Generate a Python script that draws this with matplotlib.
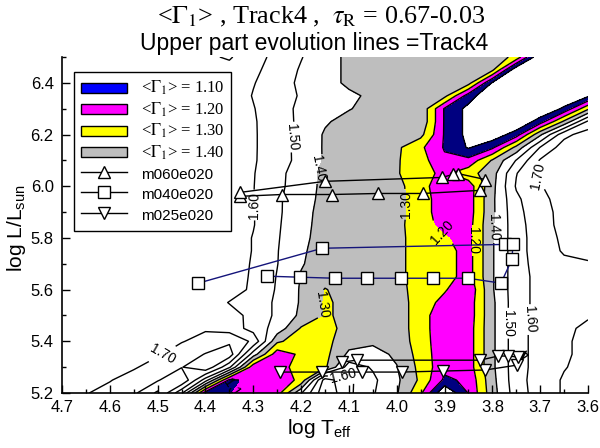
import numpy as np
import matplotlib
matplotlib.use("Agg")
import matplotlib.pyplot as plt
from matplotlib.patches import Patch, Rectangle
from matplotlib.lines import Line2D
from matplotlib.legend_handler import HandlerPatch
from matplotlib.ticker import MultipleLocator, FormatStrFormatter

plt.rcParams['font.family'] = ['Liberation Sans', 'DejaVu Sans']
plt.rcParams['mathtext.fontset'] = 'custom'
plt.rcParams['mathtext.rm'] = 'Liberation Sans'
plt.rcParams['mathtext.it'] = 'Liberation Sans:italic'
plt.rcParams['mathtext.bf'] = 'Liberation Sans:bold'

# ---------------- data ----------------
log_teff = [4.70, 4.65, 4.60, 4.55, 4.50, 4.45, 4.40, 4.35, 4.30, 4.25, 4.20, 4.15,
            4.10, 4.05, 4.00, 3.95, 3.90, 3.85, 3.80, 3.75, 3.70, 3.65, 3.60]
log_l = [5.20, 5.25, 5.30, 5.35, 5.40, 5.45, 5.50, 5.55, 5.60, 5.65, 5.70, 5.75, 5.80,
         5.85, 5.90, 5.95, 6.00, 6.05, 6.10, 6.15, 6.20, 6.25, 6.30, 6.35, 6.40, 6.45, 6.50]

# <Gamma_1> estimated on the (log L, log Teff) grid; one row per log L value
gamma1 = [
    [1.66, 1.695, 1.73, 1.78, 1.92, 1.62, 1.05, 1.095, 1.14, 1.15, 1.49, 1.78, 1.62, 1.51, 1.41, 1.22, 0.90, 1.105, 1.36, 1.55, 1.65, 1.71, 1.74],
    [1.66, 1.68, 1.695, 1.74, 1.79, 1.90, 1.55, 1.08, 1.12, 1.15, 1.22, 1.75, 1.62, 1.52, 1.42, 1.28, 1.08, 1.12, 1.37, 1.56, 1.65, 1.71, 1.74],
    [1.65, 1.67, 1.68, 1.69, 1.74, 1.795, 1.88, 1.62, 1.13, 1.16, 1.24, 1.28, 1.55, 1.49, 1.405, 1.27, 1.13, 1.15, 1.38, 1.56, 1.64, 1.695, 1.73],
    [1.65, 1.66, 1.67, 1.68, 1.69, 1.74, 1.805, 1.86, 1.45, 1.14, 1.22, 1.27, 1.42, 1.44, 1.38, 1.26, 1.13, 1.15, 1.38, 1.56, 1.64, 1.69, 1.72],
    [1.65, 1.66, 1.665, 1.67, 1.68, 1.695, 1.73, 1.78, 1.68, 1.32, 1.24, 1.27, 1.36, 1.38, 1.36, 1.25, 1.13, 1.15, 1.38, 1.56, 1.64, 1.69, 1.72],
    [1.65, 1.655, 1.66, 1.665, 1.67, 1.68, 1.69, 1.66, 1.56, 1.46, 1.29, 1.26, 1.34, 1.37, 1.35, 1.25, 1.12, 1.15, 1.38, 1.56, 1.64, 1.69, 1.71],
    [1.65, 1.655, 1.66, 1.665, 1.67, 1.675, 1.68, 1.64, 1.57, 1.48, 1.38, 1.29, 1.32, 1.36, 1.35, 1.25, 1.12, 1.14, 1.38, 1.56, 1.63, 1.68, 1.695],
    [1.65, 1.655, 1.66, 1.66, 1.665, 1.67, 1.665, 1.595, 1.57, 1.48, 1.39, 1.285, 1.33, 1.36, 1.35, 1.25, 1.17, 1.14, 1.38, 1.56, 1.63, 1.67, 1.69],
    [1.65, 1.65, 1.655, 1.66, 1.66, 1.665, 1.67, 1.65, 1.58, 1.49, 1.39, 1.295, 1.34, 1.36, 1.34, 1.25, 1.21, 1.12, 1.39, 1.56, 1.63, 1.67, 1.69],
    [1.65, 1.65, 1.655, 1.66, 1.66, 1.665, 1.67, 1.655, 1.585, 1.495, 1.395, 1.34, 1.345, 1.35, 1.33, 1.25, 1.24, 1.16, 1.39, 1.56, 1.63, 1.67, 1.68],
    [1.65, 1.65, 1.655, 1.66, 1.66, 1.665, 1.67, 1.655, 1.59, 1.503, 1.405, 1.37, 1.35, 1.35, 1.33, 1.25, 1.24, 1.16, 1.39, 1.56, 1.64, 1.68, 1.69],
    [1.65, 1.655, 1.66, 1.66, 1.665, 1.67, 1.67, 1.66, 1.595, 1.505, 1.41, 1.37, 1.355, 1.35, 1.33, 1.25, 1.24, 1.16, 1.39, 1.56, 1.65, 1.71, 1.73],
    [1.655, 1.655, 1.66, 1.665, 1.665, 1.67, 1.67, 1.66, 1.595, 1.51, 1.415, 1.375, 1.36, 1.355, 1.33, 1.25, 1.21, 1.16, 1.39, 1.56, 1.65, 1.72, 1.74],
    [1.655, 1.66, 1.66, 1.665, 1.67, 1.67, 1.675, 1.66, 1.605, 1.515, 1.42, 1.375, 1.36, 1.355, 1.33, 1.24, 1.17, 1.16, 1.39, 1.56, 1.66, 1.73, 1.74],
    [1.66, 1.66, 1.665, 1.665, 1.67, 1.675, 1.675, 1.66, 1.605, 1.52, 1.425, 1.375, 1.36, 1.355, 1.33, 1.25, 1.14, 1.15, 1.38, 1.57, 1.665, 1.73, 1.74],
    [1.66, 1.66, 1.665, 1.67, 1.67, 1.675, 1.68, 1.66, 1.602, 1.52, 1.43, 1.38, 1.36, 1.355, 1.33, 1.25, 1.14, 1.15, 1.38, 1.58, 1.68, 1.73, 1.75],
    [1.66, 1.665, 1.665, 1.67, 1.67, 1.675, 1.68, 1.66, 1.603, 1.53, 1.44, 1.38, 1.36, 1.355, 1.33, 1.24, 1.13, 1.15, 1.37, 1.61, 1.695, 1.74, 1.76],
    [1.66, 1.665, 1.67, 1.67, 1.675, 1.68, 1.68, 1.66, 1.605, 1.535, 1.44, 1.38, 1.36, 1.355, 1.31, 1.23, 1.18, 1.26, 1.36, 1.595, 1.72, 1.75, 1.76],
    [1.66, 1.665, 1.67, 1.67, 1.675, 1.68, 1.685, 1.665, 1.61, 1.545, 1.47, 1.39, 1.36, 1.355, 1.31, 1.24, 1.12, 1.13, 1.31, 1.505, 1.71, 1.76, 1.76],
    [1.66, 1.665, 1.67, 1.675, 1.68, 1.68, 1.685, 1.665, 1.61, 1.55, 1.465, 1.39, 1.36, 1.36, 1.32, 1.22, 1.09, 0.99, 1.08, 1.33, 1.605, 1.75, 1.76],
    [1.665, 1.665, 1.67, 1.675, 1.68, 1.685, 1.685, 1.66, 1.61, 1.55, 1.47, 1.39, 1.36, 1.36, 1.36, 1.33, 1.09, 0.97, 0.93, 1.05, 1.38, 1.67, 1.75],
    [1.665, 1.665, 1.67, 1.675, 1.68, 1.685, 1.685, 1.66, 1.61, 1.545, 1.48, 1.41, 1.37, 1.36, 1.37, 1.38, 1.09, 0.97, 0.90, 0.90, 1.05, 1.32, 1.62],
    [1.665, 1.665, 1.67, 1.675, 1.68, 1.685, 1.685, 1.66, 1.605, 1.54, 1.48, 1.44, 1.405, 1.37, 1.37, 1.38, 1.09, 0.97, 0.90, 0.90, 0.90, 1.02, 1.28],
    [1.665, 1.67, 1.67, 1.675, 1.68, 1.685, 1.685, 1.66, 1.595, 1.55, 1.49, 1.45, 1.42, 1.38, 1.37, 1.37, 1.33, 1.05, 0.90, 0.90, 0.90, 0.90, 0.98],
    [1.665, 1.67, 1.67, 1.675, 1.68, 1.685, 1.685, 1.66, 1.605, 1.55, 1.48, 1.44, 1.38, 1.37, 1.37, 1.37, 1.37, 1.34, 0.99, 0.90, 0.90, 0.90, 0.90],
    [1.66, 1.665, 1.665, 1.67, 1.675, 1.68, 1.68, 1.67, 1.62, 1.56, 1.49, 1.44, 1.38, 1.37, 1.37, 1.37, 1.37, 1.37, 1.32, 0.92, 0.90, 0.90, 0.90],
    [1.66, 1.66, 1.665, 1.67, 1.675, 1.68, 1.685, 1.71, 1.64, 1.57, 1.505, 1.44, 1.38, 1.37, 1.37, 1.37, 1.37, 1.37, 1.36, 1.27, 0.90, 0.90, 0.90],
]

fill_levels = [1.0, 1.1, 1.2, 1.3, 1.4]
fill_colors = ['#000080', '#ff00ff', '#ffff00', '#bebebe']
legend_colors = ['#0000ff', '#ff00ff', '#ffff00', '#bebebe']
legend_values = ['1.10', '1.20', '1.30', '1.40']
line_levels = [1.0, 1.1, 1.2, 1.3, 1.4, 1.5, 1.6, 1.7, 1.8, 1.9]

label_positions = [(4.217, 6.19), (4.167, 6.07), (4.275, 5.93), (3.96, 5.93),
                   (3.895, 5.84), (3.84, 5.79), (3.784, 5.84), (3.706, 6.04),
                   (3.757, 5.47), (3.706, 5.48), (4.156, 5.54), (4.49, 5.35),
                   (4.345, 5.215), (4.112, 5.24)]

track_names = ['m060e020', 'm040e020', 'm025e020']
m060_logt = [4.328, 4.240, 4.135, 4.039, 3.945, 3.826, 3.815, 3.872, 3.882, 3.905, 4.150, 4.328]
m060_logl = [5.961, 5.968, 5.968, 5.972, 5.972, 5.984, 6.026, 6.049, 6.046, 6.034, 6.019, 5.976]
m040_logt = [4.415, 4.156, 3.773, 3.757, 3.759, 3.782, 3.851, 3.924, 3.991, 4.062, 4.129, 4.202, 4.271]
m040_logl = [5.625, 5.760, 5.775, 5.775, 5.717, 5.625, 5.644, 5.644, 5.644, 5.644, 5.644, 5.648, 5.652]
m025_logt = [4.244, 4.156, 4.072, 3.989, 3.903, 3.815, 3.748, 3.733, 3.725, 3.738, 3.729, 3.746, 3.767, 3.788, 3.826, 4.083, 4.114]
m025_logl = [5.281, 5.281, 5.281, 5.281, 5.285, 5.289, 5.308, 5.358, 5.347, 5.331, 5.362, 5.339, 5.343, 5.343, 5.327, 5.327, 5.320]
m025_marked = [0, 1, 2, 3, 4, 5, 6, 11, 12, 13, 14, 15, 16]

# ---------------- figure ----------------
T = np.array(log_teff)[::-1]
L = np.array(log_l)
Z = np.array(gamma1)[:, ::-1]

fig = plt.figure(figsize=(6.0, 4.48), dpi=100)
ax = fig.add_axes([62 / 600, 55 / 448, 526 / 600, 336 / 448])

ax.contourf(T, L, Z, levels=fill_levels, colors=fill_colors, zorder=1)
cs = ax.contour(T, L, Z, levels=line_levels, colors='black', linewidths=1.0, zorder=2)
ax.clabel(cs, fmt='%.2f', fontsize=10, inline=True, inline_spacing=2,
          manual=label_positions)

mk = dict(markersize=9, markerfacecolor='white', markeredgecolor='black',
          markeredgewidth=1.0, zorder=6)
ax.plot(m060_logt, m060_logl, color='black', lw=1.0, marker='^', **mk)
ax.plot(m040_logt, m040_logl, color='#14147a', lw=1.0, marker='s', **mk)
ax.plot(m025_logt, m025_logl, color='black', lw=1.0, marker='v',
        markevery=m025_marked, **mk)

ax.set_xlim(4.7, 3.6)
ax.set_ylim(5.2, 6.5)
ax.xaxis.set_major_locator(MultipleLocator(0.1))
ax.xaxis.set_minor_locator(MultipleLocator(0.05))
ax.yaxis.set_major_locator(MultipleLocator(0.2))
ax.yaxis.set_minor_locator(MultipleLocator(0.1))
ax.xaxis.set_major_formatter(FormatStrFormatter('%.1f'))
ax.yaxis.set_major_formatter(FormatStrFormatter('%.1f'))
ax.set_yticks([5.2, 5.4, 5.6, 5.8, 6.0, 6.2, 6.4])
ax.tick_params(which='both', direction='in', top=False, right=False, labelsize=12)
ax.tick_params(which='major', length=6, width=1)
ax.tick_params(which='minor', length=3, width=1)
ax.tick_params(axis='x', pad=5)
ax.tick_params(axis='y', pad=6)
for s in ['top', 'right']:
    ax.spines[s].set_visible(False)
for s in ['left', 'bottom']:
    ax.spines[s].set_linewidth(1.2)
    ax.spines[s].set_zorder(10)

ax.set_xlabel(r'log T$_{\mathrm{eff}}$', fontsize=15)
ax.set_ylabel(r'log L/L$_{\mathrm{sun}}$', fontsize=15)
ax.xaxis.set_label_coords(0.49, -0.07)
ax.yaxis.set_label_coords(-0.065, 0.49)

fig.text(0.535, 0.962, r'<$\Gamma_1$> , Track4 ,  $\tau_{\mathrm{R}}$ = 0.67-0.03',
         ha='center', va='center', fontsize=18.8, family='Liberation Serif',
         math_fontfamily='stix')
fig.text(0.523, 0.902, 'Upper part evolution lines =Track4', ha='center', va='center',
         fontsize=16.5)


def small_rect(legend, orig_handle, xdescent, ydescent, width, height, fontsize):
    h = height * 0.56
    return Rectangle((-xdescent, -ydescent + (height - h) / 2), width, h)


handles = [Patch(facecolor=c, edgecolor='black', linewidth=1.0) for c in legend_colors]
handles += [Line2D([], [], color='black', lw=1.0, marker=m, markersize=9,
                   markerfacecolor='white', markeredgecolor='black')
            for m in ['^', 's', 'v']]
labels = ['<$\\Gamma_1$> = ' + v for v in legend_values] + track_names
leg = ax.legend(handles, labels, loc='upper left', bbox_to_anchor=(0.023, 0.955),
                borderaxespad=0, fancybox=False, framealpha=1, edgecolor='black',
                fontsize=11, handlelength=3.0, handleheight=1.4, labelspacing=0.2,
                borderpad=0.45, handletextpad=0.9,
                handler_map={Patch: HandlerPatch(patch_func=small_rect)})
leg.get_frame().set_linewidth(1.0)
leg.set_zorder(20)
for i, t in enumerate(leg.get_texts()):
    if i < 4:
        t.set_fontfamily('Liberation Serif')
        t.set_math_fontfamily('stix')
        t.set_fontsize(12)

fig.savefig('out.png', dpi=100)
